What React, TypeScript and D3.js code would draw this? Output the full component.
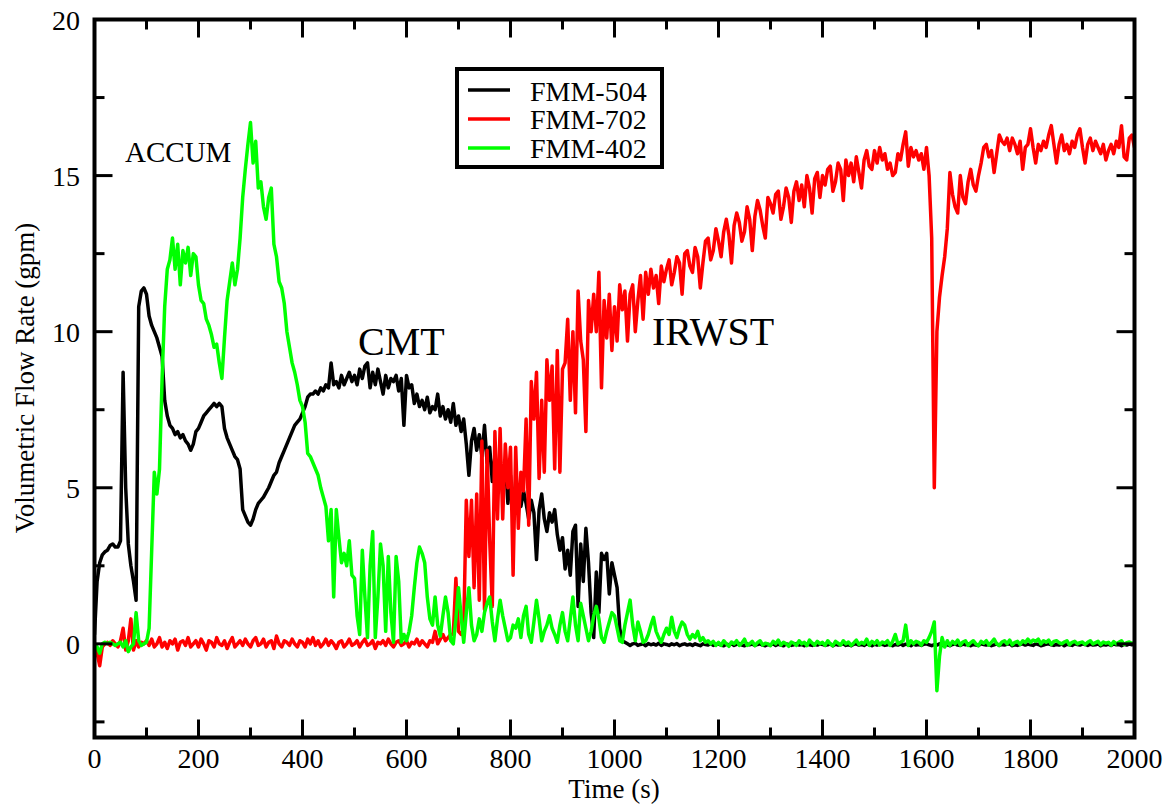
import React from 'react';
import * as d3 from 'd3';

// sampling interval of the typed series (seconds)
const STEP_S = 5;

// FMM-504 (black), t = 0..2000 s every 5 s
const fmm504: number[] = [
  0.3, 2.0, 2.6, 2.85, 2.95, 3.0, 3.15, 3.2, 3.1, 3.1, 3.3, 8.7, 5.0, 3.2, 2.5, 2.0, 1.4, 10.8, 11.3, 11.4,
  11.2, 10.5, 10.2, 10.0, 9.8, 9.5, 9.2, 7.8, 7.3, 7.0, 6.9, 6.7, 6.8, 6.6, 6.7, 6.5, 6.4, 6.2, 6.4, 6.8,
  6.9, 7.1, 7.3, 7.4, 7.5, 7.6, 7.7, 7.6, 7.7, 7.6, 6.9, 6.6, 6.4, 6.2, 6.0, 5.9, 5.6, 4.3, 4.1, 3.9,
  3.8, 4.0, 4.3, 4.5, 4.6, 4.7, 4.85, 5.0, 5.2, 5.4, 5.5, 5.8, 6.0, 6.2, 6.4, 6.6, 6.8, 7.0, 7.1, 7.2,
  7.4, 7.6, 7.9, 8.0, 8.0, 8.1, 8.0, 8.2, 8.1, 8.3, 8.2, 9.0, 8.3, 8.4, 8.2, 8.6, 8.3, 8.5, 8.7, 8.4,
  8.6, 8.3, 8.8, 8.5, 8.9, 9.0, 8.2, 8.7, 8.3, 8.8, 8.4, 8.0, 8.6, 8.2, 8.5, 8.4, 8.6, 8.1, 8.5, 7.0,
  8.6, 8.2, 8.3, 7.7, 8.0, 7.6, 7.8, 7.5, 7.9, 7.4, 7.6, 7.5, 8.0, 7.3, 7.6, 7.2, 7.5, 7.1, 7.7, 7.0,
  7.3, 6.8, 7.2, 6.4, 5.4, 6.5, 6.9, 6.2, 6.7, 6.0, 7.0, 5.8, 6.3, 5.2, 6.0, 5.5, 5.8, 4.8, 5.9, 4.5,
  5.4, 4.2, 5.2, 4.6, 4.4, 4.9, 4.5, 4.0, 4.6, 4.2, 2.7, 4.3, 4.8, 4.0, 3.6, 4.2, 3.9, 4.3, 3.5, 3.0,
  3.4, 2.4, 3.0, 2.2, 3.6, 3.8, 1.2, 3.2, 2.0, 3.7, 2.6, 1.0, 0.2, 2.3, 1.0, 2.9, 2.7, 2.9, 1.6, 2.6,
  2.2, 1.8, 0.5, 0.1, 0.05, 0.0, -0.05, 0.0, 0.02, -0.05, -0.02, 0.0, -0.06, 0.01, -0.03, 0.0, -0.04, 0.02, -0.05, 0.0,
  -0.02, -0.05, 0.0, -0.03, 0.01, -0.06, -0.02, 0.0, -0.04, -0.01, -0.05, 0.0, -0.03, -0.06, 0.0, -0.02, -0.04, 0.01, -0.05, -0.02,
  0.0, -0.04, -0.06, -0.01, -0.03, 0.0, -0.05, -0.02, 0.01, -0.04, -0.06, 0.0, -0.03, -0.01, -0.05, -0.02, 0.0, -0.04, -0.06, -0.02,
  -0.03, 0.0, -0.05, -0.01, -0.04, -0.06, 0.0, -0.02, -0.05, -0.03, 0.01, -0.04, -0.02, -0.06, 0.0, -0.03, -0.05, -0.01, -0.04, 0.0,
  -0.02, -0.05, -0.03, 0.0, -0.06, -0.01, -0.04, -0.02, 0.0, -0.05, -0.03, -0.06, -0.01, 0.0, -0.04, -0.02, -0.05, 0.0, -0.03, -0.06,
  -0.01, -0.04, 0.0, -0.02, -0.05, -0.03, 0.0, -0.06, -0.02, -0.04, 0.0, -0.05, -0.01, -0.03, -0.06, 0.0, -0.04, -0.02, -0.05, -0.01,
  0.0, -0.03, -0.06, -0.02, -0.04, 0.0, -0.05, -0.01, -0.03, -0.06, -0.02, 0.0, -0.04, -0.05, -0.01, -0.03, 0.0, -0.06, -0.02, -0.04,
  -0.05, 0.0, -0.02, -0.04, -0.01, -0.06, -0.03, 0.0, -0.05, -0.02, -0.04, -0.01, 0.0, -0.06, -0.03, -0.05, -0.02, 0.0, -0.04, -0.01,
  -0.03, -0.05, 0.0, -0.02, -0.06, -0.04, -0.01, 0.0, -0.03, -0.05, -0.02, -0.04, 0.0, -0.06, -0.01, -0.03, -0.05, 0.0, -0.02, -0.04,
  0.0, -0.02, -0.05, -0.01, -0.04, -0.03, 0.0, -0.06, -0.02, -0.04, -0.01, -0.05, 0.0, -0.03, -0.02, -0.06, -0.01, -0.04, 0.0, -0.03,
  -0.02,
];

// FMM-702 (red), t = 0..2000 s every 5 s
const fmm702: number[] = [
  0.0, -0.3, -0.7, -0.1, 0.0, 0.05, -0.05, 0.1, 0.0, -0.1, 0.1, 0.5, -0.2, 0.1, 0.8, -0.2, 0.1, -0.1, 0.05, 0.0,
  0.1, -0.05, 0.15, -0.1, 0.0, 0.2, -0.1, 0.05, -0.15, 0.1, 0.0, 0.15, -0.2, 0.05, 0.1, -0.05, 0.2, -0.1, 0.0, 0.1,
  -0.1, 0.15, 0.0, -0.2, 0.1, 0.05, -0.1, 0.2, 0.0, -0.05, 0.1, -0.15, 0.05, 0.2, -0.1, 0.0, 0.1, -0.05, 0.15, 0.0,
  -0.1, 0.1, 0.2, -0.05, 0.0, 0.15, -0.1, 0.05, 0.1, -0.15, 0.25, 0.0, -0.1, 0.1, 0.05, -0.05, 0.15, 0.0, -0.1, 0.1,
  0.05, -0.1, 0.15, 0.0, 0.2, -0.05, 0.1, -0.1, 0.0, 0.15, -0.05, 0.1, 0.0, -0.15, 0.05, 0.1, -0.1, 0.0, 0.15, -0.05,
  0.0, 0.1, -0.1, 0.05, 0.15, -0.05, 0.0, 0.1, -0.15, 0.05, 0.0, 0.1, -0.05, 0.15, 0.0, -0.1, 0.05, 0.1, -0.05, 0.0,
  0.1, -0.1, 0.05, 0.0, 0.15, -0.05, 0.1, 0.0, -0.1, 0.1, 0.05, 0.4, 0.0, 0.15, 0.3, 0.1, 0.2, 0.3, 0.3, 2.1,
  0.4, 0.3, 0.5, 4.6, 2.8, 4.6, 1.8, 4.8, 1.4, 6.5, 1.1, 6.2, 3.3, 1.2, 6.8, 4.0, 6.9, 4.0, 6.4, 5.0,
  6.3, 2.2, 6.3, 3.7, 5.5, 4.9, 7.2, 3.8, 8.4, 7.2, 8.7, 5.3, 7.8, 5.5, 9.1, 7.8, 8.9, 5.6, 9.4, 5.5,
  8.8, 9.0, 10.4, 7.8, 10.0, 7.4, 11.3, 9.7, 9.1, 6.8, 11.0, 10.0, 11.2, 10.0, 11.9, 8.2, 11.0, 9.8, 11.2, 9.4,
  10.8, 9.7, 11.5, 10.7, 11.3, 9.7, 11.2, 11.5, 10.0, 11.0, 11.8, 10.4, 11.9, 11.2, 12.0, 11.4, 11.8, 10.9, 12.1, 11.6,
  12.0, 12.3, 11.5, 11.9, 12.4, 12.2, 11.2, 12.5, 12.6, 12.1, 11.9, 12.7, 12.4, 11.4, 12.2, 12.9, 13.0, 12.3, 12.6, 13.3,
  12.9, 12.4, 13.2, 13.6, 13.1, 12.2, 13.4, 13.8, 13.5, 12.9, 13.2, 14.0, 13.6, 12.6, 13.7, 14.2, 13.9, 13.4, 13.0, 14.3,
  14.1, 13.8, 14.4, 14.5, 13.6, 14.0, 14.6, 14.3, 13.5, 14.5, 14.8, 14.2, 14.7, 14.0, 15.0, 14.6, 13.8, 14.9, 15.1, 14.3,
  15.0, 14.7, 15.2, 15.3, 14.5, 14.8, 15.4, 15.2, 14.2, 15.5, 15.0, 15.4, 14.8, 15.6, 15.1, 14.6, 15.5, 15.8, 15.3, 15.2,
  15.8, 15.4, 15.9, 15.5, 15.7, 15.2, 15.4, 15.0, 15.1, 15.7, 15.5, 16.0, 16.4, 15.3, 15.9, 15.6, 15.8, 15.5, 15.7, 15.2,
  15.9, 15.0, 13.0, 5.0, 10.0, 11.1, 11.8, 12.4, 13.3, 15.1, 14.4, 14.0, 13.8, 15.0, 14.3, 14.1, 14.8, 15.2, 14.7, 14.5,
  15.0, 15.4, 15.9, 16.0, 15.6, 15.8, 15.1, 15.7, 16.3, 16.1, 16.0, 16.2, 15.8, 16.2, 16.0, 15.7, 16.1, 15.2, 15.9, 16.0,
  16.5, 15.9, 15.4, 16.0, 15.8, 16.1, 15.9, 16.3, 16.6, 16.0, 15.4, 16.0, 16.3, 15.8, 16.0, 15.7, 16.1, 15.9, 16.3, 16.5,
  15.9, 15.4, 16.0, 16.2, 15.8, 16.1, 15.9, 15.7, 16.0, 15.5, 15.8, 16.0, 15.7, 16.1, 15.9, 16.6, 15.6, 15.5, 16.2, 16.3,
  15.9,
];

// FMM-402 (green), t = 0..2000 s every 5 s
const fmm402: number[] = [
  0.0, -0.1, -0.3, 0.0, 0.05, 0.0, 0.05, 0.0, -0.05, 0.0, 0.05, -0.1, 0.1, -0.25, -0.1, 0.0, 1.0, 0.1, -0.05, 0.0,
  0.05, 0.5, 3.0, 5.5, 4.8, 5.6, 8.5, 10.8, 12.0, 12.3, 13.0, 12.0, 12.8, 11.5, 12.6, 12.2, 12.7, 11.8, 12.5, 12.4,
  11.5, 11.0, 10.9, 10.4, 10.2, 9.9, 9.5, 9.6, 9.0, 8.5, 9.8, 11.0, 11.6, 12.2, 11.5, 12.0, 13.0, 14.3, 15.2, 16.0,
  16.7, 15.4, 16.1, 14.6, 14.8, 14.0, 13.6, 14.3, 14.6, 12.8, 12.4, 11.6, 11.4, 10.9, 10.0, 9.5, 9.0, 8.7, 8.3, 7.8,
  7.6, 7.1, 6.1, 6.0, 5.8, 5.6, 5.4, 5.0, 4.7, 4.4, 3.3, 4.3, 1.5, 4.3, 3.4, 2.6, 2.9, 2.5, 3.3, 2.2,
  2.1, 0.9, 0.3, 3.0, 1.5, 0.2, 2.5, 3.6, 0.2, 1.5, 3.2, 2.5, 0.4, 2.8, 1.0, 0.05, 2.8, 2.0, 0.05, 0.3,
  0.1, 0.4, 0.9, 1.8, 2.6, 3.1, 2.9, 2.6, 1.5, 0.8, 0.6, 1.5, 0.6, 0.25, 0.9, 1.5, 1.0, 0.1, 0.0, 0.8,
  1.8, 0.9, 0.05, 1.0, 1.8, 0.6, 0.1, 0.3, 0.8, 0.4, 1.0, 1.3, 1.5, 0.7, 0.1, 0.8, 1.4, 0.9, 0.5, 0.1,
  0.2, 0.6, 0.5, 0.8, 0.2, 0.9, 1.2, 0.3, 0.05, 0.7, 1.4, 0.8, 0.1, 0.4, 0.6, 0.9, 0.5, 0.3, 0.05, 0.6,
  1.0, 0.4, 0.1, 0.8, 1.5, 0.6, 0.1, 1.3, 0.9, 0.5, 0.1, 0.4, 0.9, 1.2, 0.8, 0.2, 0.05, 0.4, 0.7, 1.0,
  0.9, 0.5, 0.1, 0.05, 0.6, 1.0, 1.4, 0.6, 0.1, 0.7, 0.4, 0.05, 0.1, 0.3, 0.6, 0.85, 0.4, 0.2, 0.05, 0.3,
  0.5, 0.3, 0.85, 0.4, 0.2, 0.5, 0.7, 0.6, 0.3, 0.15, 0.3, 0.2, 0.4, 0.1, 0.2, 0.05, 0.1, 0.0, 0.08, -0.05,
  0.05, -0.05, 0.1, 0.0, -0.08, 0.06, 0.0, 0.1, -0.05, 0.03, 0.15, -0.05, 0.0, 0.08, -0.06, 0.04, 0.1, -0.04, 0.02, 0.0,
  -0.06, 0.08, 0.0, 0.12, -0.04, 0.05, 0.0, -0.08, 0.06, 0.02, -0.05, 0.1, 0.0, 0.05, -0.06, 0.12, 0.03, -0.04, 0.08, 0.0,
  0.05, -0.05, 0.1, 0.0, -0.06, 0.08, 0.02, -0.04, 0.1, 0.0, 0.06, -0.05, 0.03, 0.12, -0.02, 0.05, 0.0, 0.15, -0.05, 0.08,
  0.0, 0.1, -0.04, 0.06, 0.02, 0.1, -0.05, 0.08, 0.3, 0.0, 0.05, 0.1, 0.6, -0.05, 0.1, 0.0, 0.08, 0.05, -0.04, 0.1,
  0.05, 0.2, 0.4, 0.7, -1.5, -0.4, 0.2, -0.1, 0.1, -0.05, 0.08, 0.0, 0.12, -0.04, 0.06, 0.1, -0.05, 0.04, 0.1, 0.0,
  -0.06, 0.08, 0.02, 0.1, -0.04, 0.05, 0.15, 0.0, -0.05, 0.06, 0.1, 0.0, 0.12, -0.03, 0.05, 0.08, -0.02, 0.1, 0.04, 0.15,
  0.05, 0.12, 0.08, 0.15, 0.0, 0.1, 0.05, 0.12, -0.02, 0.08, 0.1, 0.04, 0.0, 0.06, 0.1, -0.03, 0.05, 0.08, 0.0, 0.04,
  0.06, -0.02, 0.05, 0.1, 0.0, 0.04, 0.08, -0.03, 0.06, 0.02, 0.05, -0.04, 0.07, 0.0, 0.05, 0.1, -0.02, 0.04, 0.06, 0.02,
  0.03,
];

const seriesNames = ['FMM-504', 'FMM-702', 'FMM-402'];
const seriesColors = ['#000000', '#ff0000', '#00ff00'];
const seriesData = [fmm504, fmm702, fmm402];

const xDomain = [0, 2000];
const yDomain = [-3, 20];
const xMajorTicks = [0, 200, 400, 600, 800, 1000, 1200, 1400, 1600, 1800, 2000];
const xMinorTicks = [100, 300, 500, 700, 900, 1100, 1300, 1500, 1700, 1900];
const yMajorTicks = [0, 5, 10, 15, 20];
const yMinorTicks = [-2.5, 2.5, 7.5, 12.5, 17.5];

const xTitle = 'Time (s)';
const yTitle = 'Volumetric Flow Rate (gpm)';

const FONT = "'Liberation Serif', 'Times New Roman', Times, serif";
const textStyle = { fontFamily: FONT };

export default function App() {
  const W = 1164;
  const H = 804;
  const left = 94.5;
  const right = 1134.5;
  const top = 19.5;
  const bottom = 737.5;

  const x = d3.scaleLinear().domain(xDomain).range([left, right]);
  const y = d3.scaleLinear().domain(yDomain).range([bottom, top]);

  const line = d3
    .line<number>()
    .x((_, i) => x(i * STEP_S))
    .y((d) => y(d));

  const majorLen = 18;
  const minorLen = 10;

  const legendX = 457;
  const legendY = 69;
  const legendW = 205;
  const legendH = 98;

  return (
    <svg
      width={W}
      height={H}
      style={{ position: 'absolute', left: 0, top: 0, background: '#fff', fontFamily: FONT }}
    >
      <rect x={0} y={0} width={W} height={H} fill="#fff" />
      <defs>
        <clipPath id="plotClip">
          <rect x={left} y={top} width={right - left} height={bottom - top} />
        </clipPath>
      </defs>

      <g clipPath="url(#plotClip)">
        {seriesData.map((d, k) => (
          <path
            key={seriesNames[k]}
            d={line(d) || ''}
            fill="none"
            stroke={seriesColors[k]}
            strokeWidth={3.5}
            strokeLinejoin="round"
            strokeLinecap="round"
          />
        ))}
      </g>

      {/* ticks, all four sides, pointing inward */}
      <g stroke="#000" strokeWidth={3}>
        {xMajorTicks.map((t) => (
          <g key={'xm' + t}>
            <line x1={x(t)} x2={x(t)} y1={bottom} y2={bottom - majorLen} />
            <line x1={x(t)} x2={x(t)} y1={top} y2={top + majorLen} />
          </g>
        ))}
        {xMinorTicks.map((t) => (
          <g key={'xn' + t}>
            <line x1={x(t)} x2={x(t)} y1={bottom} y2={bottom - minorLen} />
            <line x1={x(t)} x2={x(t)} y1={top} y2={top + minorLen} />
          </g>
        ))}
        {yMajorTicks.map((v) => (
          <g key={'ym' + v}>
            <line x1={left} x2={left + majorLen} y1={y(v)} y2={y(v)} />
            <line x1={right} x2={right - majorLen} y1={y(v)} y2={y(v)} />
          </g>
        ))}
        {yMinorTicks.map((v) => (
          <g key={'yn' + v}>
            <line x1={left} x2={left + minorLen} y1={y(v)} y2={y(v)} />
            <line x1={right} x2={right - minorLen} y1={y(v)} y2={y(v)} />
          </g>
        ))}
      </g>

      <rect
        x={left}
        y={top}
        width={right - left}
        height={bottom - top}
        fill="none"
        stroke="#000"
        strokeWidth={4}
      />

      {/* tick labels */}
      <g fontSize={28} fill="#000">
        {xMajorTicks.map((t) => (
          <text key={'xl' + t} x={x(t)} y={768} textAnchor="middle" style={textStyle}>
            {t}
          </text>
        ))}
        {yMajorTicks.map((v) => (
          <text key={'yl' + v} x={80} y={y(v) + 10} textAnchor="end" style={textStyle}>
            {v}
          </text>
        ))}
      </g>

      {/* axis titles */}
      <text x={614} y={798} textAnchor="middle" fontSize={27} fill="#000" style={textStyle}>
        {xTitle}
      </text>
      <text
        transform="translate(34,378) rotate(-90)"
        textAnchor="middle"
        fontSize={27}
        fill="#000"
        style={textStyle}
      >
        {yTitle}
      </text>

      {/* annotations */}
      <text x={125} y={162} fontSize={29} fill="#000" style={textStyle}>ACCUM</text>
      <text x={358} y={355} fontSize={40} fill="#000" style={textStyle}>CMT</text>
      <text x={652} y={345} fontSize={40} fill="#000" style={textStyle}>IRWST</text>

      {/* legend */}
      <rect
        x={legendX}
        y={legendY}
        width={legendW}
        height={legendH}
        fill="#fff"
        stroke="#000"
        strokeWidth={4}
      />
      {seriesNames.map((name, k) => (
        <g key={'lg' + name}>
          <line
            x1={468}
            x2={510}
            y1={90 + k * 29}
            y2={90 + k * 29}
            stroke={seriesColors[k]}
            strokeWidth={3.5}
          />
          <text x={530} y={100.5 + k * 28.5} fontSize={28} fill="#000" style={textStyle}>
            {name}
          </text>
        </g>
      ))}
    </svg>
  );
}
